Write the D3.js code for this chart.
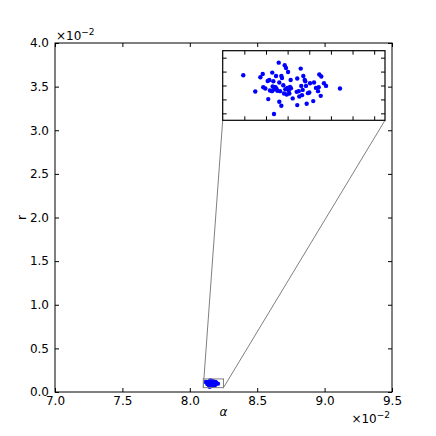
<!DOCTYPE html>
<html>
<head>
<meta charset="utf-8">
<script src="https://cdn.jsdelivr.net/npm/d3@7"></script>
<style>
  html, body { margin: 0; padding: 0; background: #fff; }
  svg text { font-family: "DejaVu Sans", sans-serif; fill: #000; }
</style>
</head>
<body>
<svg id="chart" width="436" height="436"></svg>
<script>
// values in units of 1e-2
const alpha = [8.1190, 8.1301, 8.1348, 8.1370, 8.1375, 8.1394, 8.1416, 8.1431, 8.1421, 8.1437,
  8.1458, 8.1462, 8.1468, 8.1477, 8.1483, 8.1493, 8.1499, 8.1505, 8.1518, 8.1523,
  8.1523, 8.1530, 8.1542, 8.1548, 8.1542, 8.1560, 8.1567, 8.1573, 8.1579, 8.1585,
  8.1592, 8.1597, 8.1604, 8.1610, 8.1616, 8.1622, 8.1628, 8.1647, 8.1684, 8.1689,
  8.1689, 8.1702, 8.1708, 8.1721, 8.1726, 8.1733, 8.1739, 8.1745, 8.1758, 8.1763,
  8.1770, 8.1776, 8.1788, 8.1800, 8.1837, 8.1844, 8.1862, 8.1881, 8.1887, 8.1893,
  8.1906, 8.1911, 8.1936, 8.1955, 8.2084, 8.1474, 8.1490, 8.1456, 8.1631, 8.1807];
const r = [0.11471, 0.09143, 0.11186, 0.11657, 0.09757, 0.09571, 0.10657, 0.10800, 0.08043, 0.09286,
  0.11857, 0.09857, 0.10614, 0.09471, 0.09757, 0.11371, 0.09471, 0.09229, 0.13286, 0.10429,
  0.07657, 0.09186, 0.11371, 0.11086, 0.07086, 0.10043, 0.08857, 0.12900, 0.09471, 0.12514,
  0.08714, 0.09657, 0.11943, 0.09286, 0.08857, 0.09800, 0.10800, 0.08143, 0.09086, 0.07186,
  0.11000, 0.09186, 0.08429, 0.12429, 0.09943, 0.08614, 0.09371, 0.11371, 0.10800, 0.10614,
  0.09943, 0.07371, 0.08900, 0.09000, 0.07757, 0.10429, 0.09657, 0.09186, 0.09757, 0.11571,
  0.08514, 0.11286, 0.10329, 0.09943, 0.09571, 0.05900, 0.09714, 0.09186, 0.09614, 0.10329];

const xTicks = [7.0, 7.5, 8.0, 8.5, 9.0, 9.5];
const yTicks = [0.0, 0.5, 1.0, 1.5, 2.0, 2.5, 3.0, 3.5, 4.0];
const xDomain = [7.0, 9.5];
const yDomain = [0.0, 4.0];
const zoomX = [8.10, 8.25];
const zoomY = [0.05, 0.15];
const insetXTicks = [8.12, 8.14, 8.16, 8.18, 8.20, 8.22, 8.24];
const insetYTicks = [0.06, 0.08, 0.10, 0.12, 0.14];

const pts = alpha.map((a, i) => ({a: a, r: r[i]}));
const svg = d3.select("#chart");

// main axes
const L = 55, R = 392, T = 43, B = 392;
const x = d3.scaleLinear().domain(xDomain).range([L, R]);
const y = d3.scaleLinear().domain(yDomain).range([B, T]);

const main = svg.append("g");
main.append("rect").attr("x", L).attr("y", T).attr("width", R - L).attr("height", B - T)
  .attr("fill", "#fff");

svg.append("clipPath").attr("id", "clipMain").append("rect")
  .attr("x", L).attr("y", T).attr("width", R - L).attr("height", B - T);
main.append("g").attr("clip-path", "url(#clipMain)")
  .selectAll("circle").data(pts).join("circle")
  .attr("cx", d => x(d.a)).attr("cy", d => y(d.r)).attr("r", 2.2).attr("fill", "#0000ff");

const gray = "#808080";
main.append("rect")
  .attr("x", x(zoomX[0])).attr("y", y(zoomY[1]))
  .attr("width", x(zoomX[1]) - x(zoomX[0])).attr("height", y(zoomY[0]) - y(zoomY[1]))
  .attr("fill", "none").attr("stroke", gray).attr("stroke-width", 1);

const iL = 222.7, iR = 385, iT = 50.7, iB = 120.3;
const ix = d3.scaleLinear().domain(zoomX).range([iL, iR]);
const iy = d3.scaleLinear().domain(zoomY).range([iB, iT]);

main.append("line").attr("x1", iL).attr("y1", iB).attr("x2", x(zoomX[0])).attr("y2", y(zoomY[0]))
  .attr("stroke", gray).attr("stroke-width", 1);
main.append("line").attr("x1", iR).attr("y1", iB).attr("x2", x(zoomX[1])).attr("y2", y(zoomY[0]))
  .attr("stroke", gray).attr("stroke-width", 1);

const tickLen = 4;
function styleAxis(g) {
  g.select(".domain").remove();
  g.selectAll(".tick line").attr("stroke", "#000").attr("stroke-width", 1);
}
main.append("g").attr("transform", `translate(0,${B})`)
  .call(d3.axisBottom(x).tickValues(xTicks).tickSize(-tickLen).tickPadding(4)
    .tickFormat(d3.format(".1f")))
  .call(styleAxis)
  .call(g => g.selectAll("text").attr("font-size", 12).attr("font-family", "DejaVu Sans"));
main.append("g").attr("transform", `translate(0,${T})`)
  .call(d3.axisTop(x).tickValues(xTicks).tickSize(-tickLen).tickFormat(""))
  .call(styleAxis);
main.append("g").attr("transform", `translate(${L},0)`)
  .call(d3.axisLeft(y).tickValues(yTicks).tickSize(-tickLen).tickPadding(6)
    .tickFormat(d3.format(".1f")))
  .call(styleAxis)
  .call(g => g.selectAll("text").attr("font-size", 12).attr("font-family", "DejaVu Sans"));
main.append("g").attr("transform", `translate(${R},0)`)
  .call(d3.axisRight(y).tickValues(yTicks).tickSize(-tickLen).tickFormat(""))
  .call(styleAxis);

main.append("rect").attr("x", L).attr("y", T).attr("width", R - L).attr("height", B - T)
  .attr("fill", "none").attr("stroke", "#000").attr("stroke-width", 1);

// inset
const inset = svg.append("g");
inset.append("rect").attr("x", iL).attr("y", iT).attr("width", iR - iL).attr("height", iB - iT)
  .attr("fill", "#fff");
svg.append("clipPath").attr("id", "clipInset").append("rect")
  .attr("x", iL).attr("y", iT).attr("width", iR - iL).attr("height", iB - iT);
inset.append("g").attr("clip-path", "url(#clipInset)")
  .selectAll("circle").data(pts).join("circle")
  .attr("cx", d => ix(d.a)).attr("cy", d => iy(d.r)).attr("r", 2.2).attr("fill", "#0000ff");

inset.append("g").attr("transform", `translate(0,${iB})`)
  .call(d3.axisBottom(ix).tickValues(insetXTicks).tickSize(-tickLen).tickFormat("")).call(styleAxis);
inset.append("g").attr("transform", `translate(0,${iT})`)
  .call(d3.axisTop(ix).tickValues(insetXTicks).tickSize(-tickLen).tickFormat("")).call(styleAxis);
inset.append("g").attr("transform", `translate(${iL},0)`)
  .call(d3.axisLeft(iy).tickValues(insetYTicks).tickSize(-tickLen).tickFormat("")).call(styleAxis);
inset.append("g").attr("transform", `translate(${iR},0)`)
  .call(d3.axisRight(iy).tickValues(insetYTicks).tickSize(-tickLen).tickFormat("")).call(styleAxis);
inset.append("rect").attr("x", iL).attr("y", iT).attr("width", iR - iL).attr("height", iB - iT)
  .attr("fill", "none").attr("stroke", "#000").attr("stroke-width", 1.2);

// labels
svg.append("text").attr("x", (L + R) / 2).attr("y", 416).attr("text-anchor", "middle")
  .attr("font-size", 12).attr("font-style", "italic").attr("font-family", "DejaVu Serif").text("α");
svg.append("text").attr("transform", `translate(26,${(T + B) / 2}) rotate(-90)`)
  .attr("text-anchor", "middle").attr("font-size", 12).text("r");

function offsetText(xp, yp, anchor) {
  const t = svg.append("text").attr("x", xp).attr("y", yp).attr("font-size", 12)
    .attr("text-anchor", anchor);
  t.append("tspan").text("×10");
  t.append("tspan").attr("dy", -5).attr("font-size", 9).text("−2");
}
offsetText(56, 40, "start");
offsetText(390, 423, "end");
</script>
</body>
</html>
